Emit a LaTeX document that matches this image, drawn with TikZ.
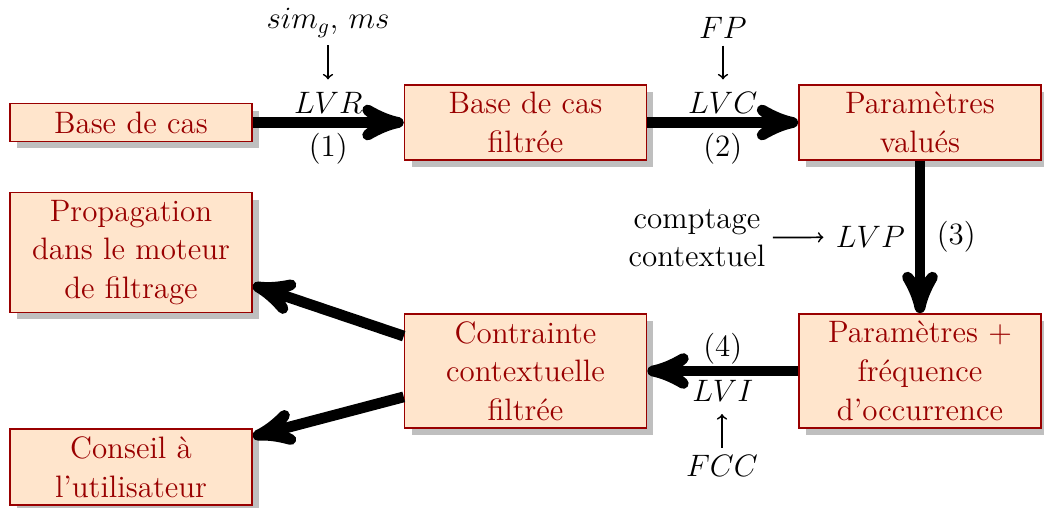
\documentclass[tikz,border=0pt]{standalone}
\usepackage{fontspec}
\usetikzlibrary{arrows,shadows}
\colorlet{boxline}{red!60!black}
\colorlet{boxfill}{orange!20}
\begin{document}
\begin{tikzpicture}[x=0.4645pt,y=-0.4645pt,
  every node/.style={font=\Large},
  blockbox/.style={draw=boxline, fill=boxfill, text=boxline, line width=0.7pt,
    minimum width=112.4pt, minimum height=17.5pt, text width=104pt, align=center,
    inner ysep=3.4pt,
    drop shadow={shadow xshift=3.25pt, shadow yshift=-3.25pt, fill=black!25, opacity=1}},
  flow/.style={line width=5pt, -stealth'},
  feed/.style={thick, ->}]
\useasboundingbox (0,0) rectangle (1044,507);

% processing stages
\node[blockbox] (base) at (131,122.5) {Base de cas};
\node[blockbox] (filt) at (525.5,122.5) {Base de cas\\filtrée};
\node[blockbox] (valu) at (920,122.5) {Paramètres\\valués};
\node[blockbox] (freq) at (920,371) {Paramètres $+$\\fréquence\\d'occurrence};
\node[blockbox] (cont) at (525.5,371) {Contrainte\\contextuelle\\filtrée};
\node[blockbox] (prop) at (131,252.5) {Propagation\\dans le moteur\\de filtrage};
\node[blockbox] (cons) at (131,467) {Conseil à\\l'utilisateur};

% main flow
\draw[flow] (base) -- (filt)
  node[midway,above=-1.5pt] (lvr) {$LVR$} node[midway,below=-1pt] (one) {(1)};
\draw[flow] (filt) -- (valu)
  node[midway,above=-1.5pt] (lvc) {$LVC$} node[midway,below=-1pt] (two) {(2)};
\draw[flow] (valu) -- (freq)
  node[midway,left=1.2pt] (lvp) {$LVP$} node[midway,right=2pt] (three) {(3)};
\draw[flow] (freq) -- (cont)
  node[midway,above=-2.5pt] (four) {(4)} node[midway,below=-1.5pt] (lvi) {$LVI$};
\draw[flow] (cont.164) -- (prop.-15);
\draw[flow] (cont.192) -- (cons.14);

% inputs of each step
\node (simg) at (328,23) {$sim_g$, $ms$};
\draw[feed] (simg) -- (simg.south |- lvr.north);
\node (fp) at (723,27.5) {$FP$};
\draw[feed] (fp) -- (fp.south |- lvc.north);
\node[align=center] (comp) at (697,238) {comptage\\contextuel};
\draw[feed] (comp) -- (lvp);
\node (fcc) at (722,466) {$FCC$};
\draw[feed] (fcc) -- (fcc.north |- lvi.south);
\end{tikzpicture}
\end{document}
